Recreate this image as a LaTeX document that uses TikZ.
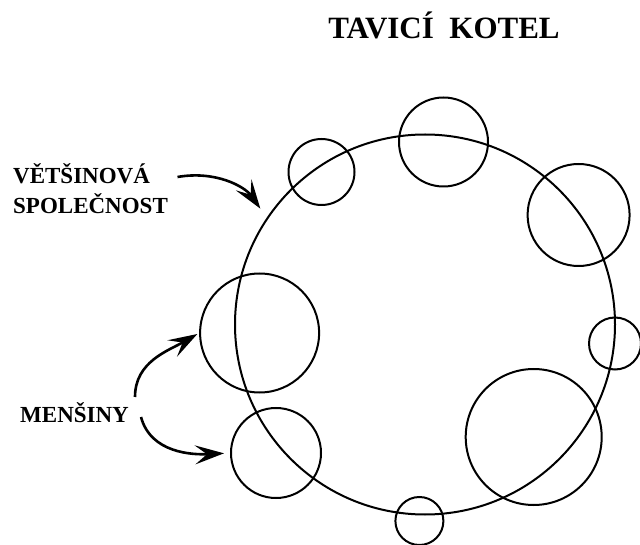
\documentclass[tikz,border=0pt]{standalone}
\usepackage{fontspec}
\setmainfont{Liberation Serif}
\usetikzlibrary{arrows.meta}
\begin{document}
\begin{tikzpicture}[x=1pt,y=1pt,
  ring/.style={circle,draw=black,line width=2pt,inner sep=0pt,minimum size=#1},
  lbl/.style={font=\bfseries\fontsize{23}{30}\selectfont,inner sep=0pt,align=left},
  pointer/.style={line width=2.6pt,-{Stealth[length=29pt,width=19pt,inset=12pt]}}]
\useasboundingbox (0,0) rectangle (640,544);

% the melting pot and the groups around its rim
\node[ring=380pt] (pot) at (425,219.5) {};
\node[ring=66pt]  (ca) at (321.5,372) {};
\node[ring=89pt]  (cb) at (443.5,402) {};
\node[ring=102pt] (cc) at (578.6,329) {};
\node[ring=52pt]  (cd) at (615,200.5) {};
\node[ring=136pt] (ce) at (533.7,107) {};
\node[ring=48pt]  (cf) at (419.4,23) {};
\node[ring=119pt] (cg) at (259.6,211) {};
\node[ring=90pt]  (ch) at (276,91) {};

% labels
\node[font=\bfseries\fontsize{31}{34}\selectfont,inner sep=0pt,anchor=base] (title) at (444,505) {TAVICÍ\ \ KOTEL};
\node[lbl,anchor=north west] (maj) at (13,381) {VĚTŠINOVÁ\\SPOLEČNOST};
\node[lbl,anchor=base west] (mins) at (20,121.3) {MENŠINY};

% arrow starts beside the labels
\coordinate (majs) at (177.5,367);
\coordinate (minsa) at (135,147);
\coordinate (minsb) at (141,127);

\draw[pointer,shorten >=11pt] (majs) to[out=10,in=125] (pot.146);
\draw[pointer,shorten >=2pt] (minsa) to[out=90,in=210] (cg.west);
\draw[pointer,shorten >=6pt] (minsb) to[out=-75,in=183] (ch.west);
\end{tikzpicture}
\end{document}
